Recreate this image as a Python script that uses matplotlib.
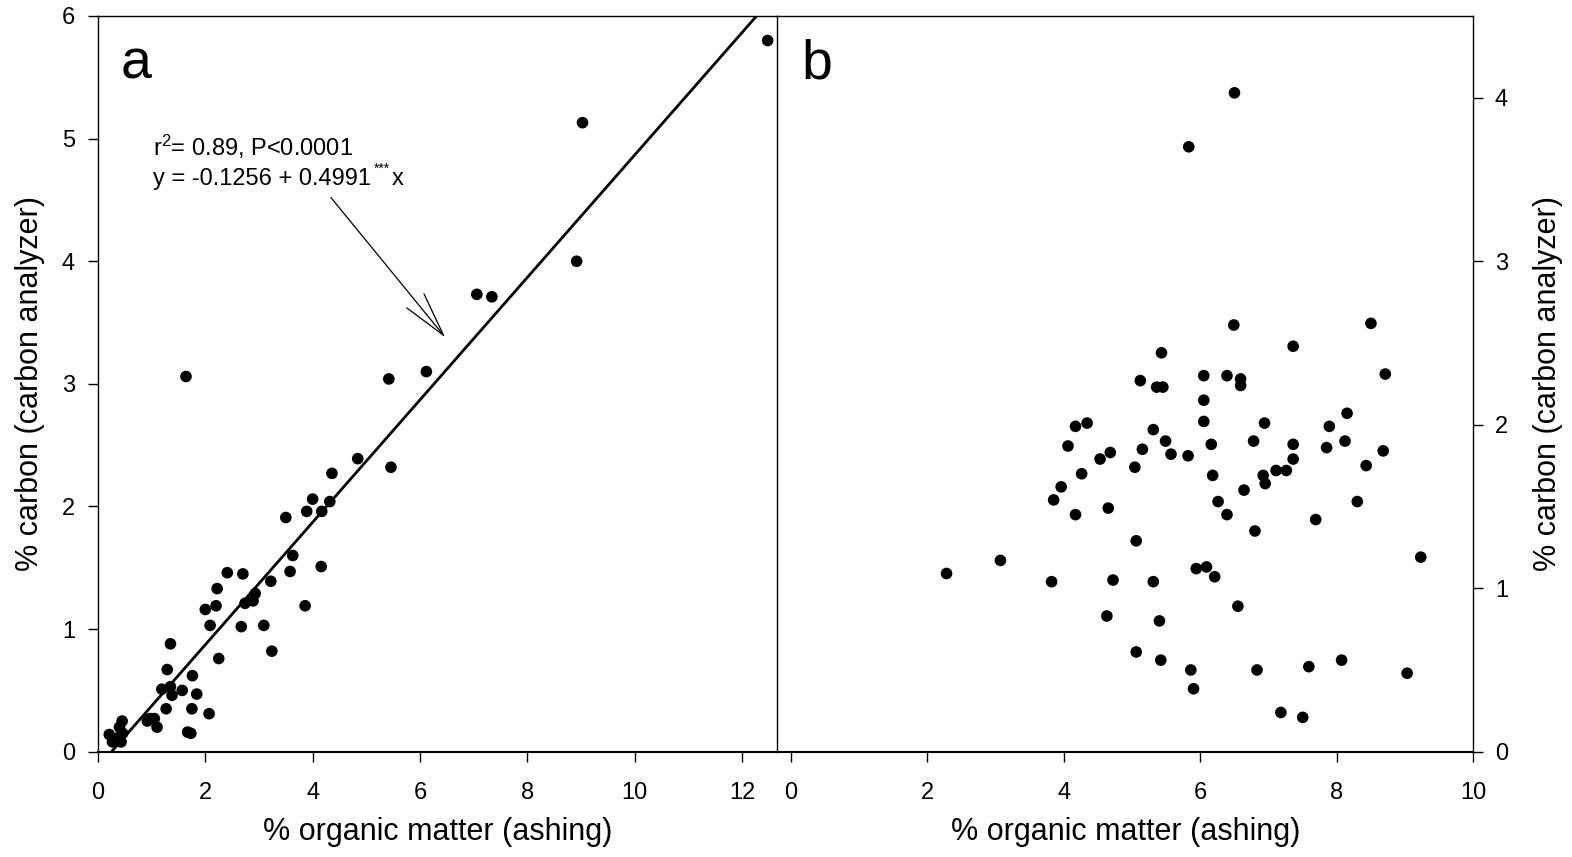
import matplotlib
matplotlib.use('Agg')
import matplotlib.pyplot as plt

plt.rcParams['font.family'] = ['Liberation Sans', 'DejaVu Sans']
plt.rcParams['mathtext.fontset'] = 'custom'
plt.rcParams['mathtext.rm'] = 'Liberation Sans'
plt.rcParams['mathtext.it'] = 'Liberation Sans:italic'

# panel a: % organic matter (ashing) vs % carbon (carbon analyzer)
om_a = [12.48, 9.03, 8.92, 7.06, 7.34, 6.12, 5.42, 1.64, 4.84, 5.46,
        4.36, 4.00, 4.32, 3.89, 4.17, 3.50, 3.63, 3.58, 4.16, 3.22,
        3.86, 2.41, 2.70, 2.22, 2.00, 2.20, 2.09, 2.67, 3.09, 2.74,
        2.89, 2.93, 3.24, 2.25, 1.35, 1.29, 1.76, 1.19, 1.35, 1.38,
        1.57, 1.84, 1.27, 1.75, 2.07, 0.97, 1.05, 0.92, 1.10, 1.67,
        1.73, 0.45, 0.40, 0.21, 0.27, 0.43, 0.46, 0.34]
c_a = [5.80, 5.13, 4.00, 3.73, 3.71, 3.10, 3.04, 3.06, 2.39, 2.32,
       2.27, 2.06, 2.04, 1.96, 1.96, 1.91, 1.60, 1.47, 1.51, 1.39,
       1.19, 1.46, 1.45, 1.33, 1.16, 1.19, 1.03, 1.02, 1.03, 1.21,
       1.23, 1.29, 0.82, 0.76, 0.88, 0.67, 0.62, 0.51, 0.53, 0.46,
       0.50, 0.47, 0.35, 0.35, 0.31, 0.27, 0.27, 0.25, 0.20, 0.16,
       0.15, 0.25, 0.20, 0.14, 0.08, 0.08, 0.15, 0.11]

# regression shown in panel a
intercept = -0.1256
slope = 0.4991
fit_x = [0.25, 12.5]

# panel b
om_b = [6.50, 5.83, 6.49, 8.50, 7.36, 5.43, 5.12, 5.36, 5.45, 6.05,
        6.05, 6.05, 6.16, 6.18, 6.26, 5.31, 5.49, 5.57, 5.82, 5.15,
        5.04, 4.68, 4.53, 4.17, 4.34, 4.06, 4.26, 3.96, 3.85, 4.17,
        4.65, 5.06, 3.07, 2.28, 3.82, 4.72, 5.31, 5.94, 6.09, 6.21,
        8.71, 6.39, 6.59, 6.59, 6.94, 6.78, 7.36, 7.36, 7.89, 8.15,
        7.85, 8.12, 8.68, 8.43, 6.92, 6.95, 7.11, 7.26, 6.64, 6.39,
        6.80, 8.30, 7.69, 9.23, 6.55, 4.63, 5.40, 5.06, 5.42, 5.86,
        5.90, 6.83, 7.59, 8.07, 9.03, 7.18, 7.50]
c_b = [4.03, 3.70, 2.61, 2.62, 2.48, 2.44, 2.27, 2.23, 2.23, 2.30,
       2.15, 2.02, 1.88, 1.69, 1.53, 1.97, 1.90, 1.82, 1.81, 1.85,
       1.74, 1.83, 1.79, 1.99, 2.01, 1.87, 1.70, 1.62, 1.54, 1.45,
       1.49, 1.29, 1.17, 1.09, 1.04, 1.05, 1.04, 1.12, 1.13, 1.07,
       2.31, 2.30, 2.28, 2.24, 2.01, 1.90, 1.88, 1.79, 1.99, 2.07,
       1.86, 1.90, 1.84, 1.75, 1.69, 1.64, 1.72, 1.72, 1.60, 1.45,
       1.35, 1.53, 1.42, 1.19, 0.89, 0.83, 0.80, 0.61, 0.56, 0.50,
       0.385, 0.50, 0.52, 0.56, 0.48, 0.24, 0.21]

xlabel = '% organic matter (ashing)'
ylabel = '% carbon (carbon analyzer)'

W, H = 1572, 857
fig = plt.figure(figsize=(W / 100, H / 100), dpi=100)

ax_l, ax_m, ax_r = 98 / W, 777.3 / W, 1473.3 / W
ax_b, ax_t = 1 - 751.7 / H, 1 - 16 / H

axa = fig.add_axes([ax_l, ax_b, ax_m - ax_l, ax_t - ax_b])
axb = fig.add_axes([ax_m, ax_b, ax_r - ax_m, ax_t - ax_b])
axb.patch.set_visible(False)

tick_kw = dict(direction='out', length=7.5, width=1.0, labelsize=17, colors='black')

# --- panel a ---
axa.scatter(om_a, c_a, s=70, color='black', edgecolors='none', zorder=3)
fit_y = [intercept + slope * x for x in fit_x]
axa.plot(fit_x, fit_y, color='black', lw=2.0, zorder=2)
axa.set_xlim(0, 12.66)
axa.set_ylim(0, 6)
axa.set_xticks(range(0, 13, 2))
axa.set_yticks(range(0, 7))
axa.tick_params(axis='both', **tick_kw)
axa.tick_params(axis='x', pad=14)
axa.tick_params(axis='y', pad=9)
axa.set_xlabel(xlabel, fontsize=22, labelpad=10)
axa.set_ylabel(ylabel, fontsize=22, labelpad=12)
for side in ['left', 'top', 'right']:
    axa.spines[side].set_linewidth(1.0)
axa.spines['bottom'].set_linewidth(1.5)
axa.text(0.034, 0.915, 'a', transform=axa.transAxes, fontsize=40, va='baseline')

axa.text(1.03, 4.86, r'r$^\mathrm{2}$= 0.89, P<0.0001', fontsize=17, va='baseline')
eq = axa.text(1.03, 4.62, 'y = -0.1256 + 0.4991', fontsize=17, va='baseline')
stars = axa.annotate('***', xy=(1, 0.78), xycoords=eq, xytext=(2, 0),
                     textcoords='offset points', fontsize=10, va='baseline')
axa.annotate('x', xy=(1, 0), xycoords=(stars, eq), xytext=(1, 0),
             textcoords='offset points', fontsize=17, va='bottom')
axa.annotate('', xy=(6.47, 3.38), xytext=(4.34, 4.52),
             arrowprops=dict(arrowstyle='->,head_length=3.2,head_width=0.8',
                             mutation_scale=10, color='black', lw=0.9,
                             shrinkA=0, shrinkB=0))

# --- panel b ---
axb.scatter(om_b, c_b, s=70, color='black', edgecolors='none', zorder=3)
axb.set_xlim(-0.2, 10)
axb.set_ylim(0, 4.5)
axb.set_xticks(range(0, 11, 2))
axb.set_yticks(range(0, 5))
axb.yaxis.tick_right()
axb.yaxis.set_label_position('right')
axb.tick_params(axis='both', **tick_kw)
axb.tick_params(axis='x', pad=14)
axb.tick_params(axis='y', pad=8)
axb.set_xlabel(xlabel, fontsize=22, labelpad=10)
axb.set_ylabel(ylabel, fontsize=22, rotation=90, labelpad=18)
axb.spines['left'].set_visible(False)
for side in ['top', 'right']:
    axb.spines[side].set_linewidth(1.0)
axb.spines['bottom'].set_linewidth(1.5)
axb.text(0.035, 0.915, 'b', transform=axb.transAxes, fontsize=40, va='baseline')

fig.savefig('out.png', dpi=100)
